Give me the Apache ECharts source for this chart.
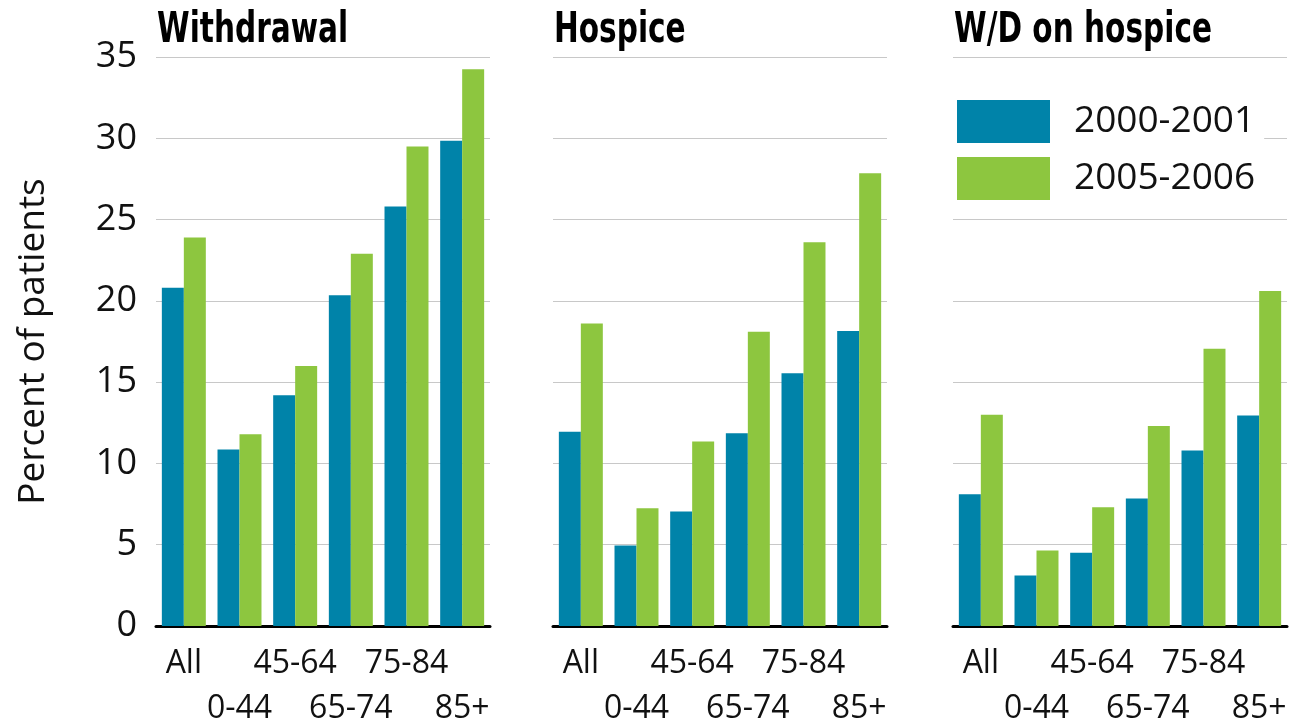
<!DOCTYPE html>
<html>
<head>
<meta charset="utf-8">
<script src="https://cdn.jsdelivr.net/npm/echarts@6/dist/echarts.min.js"></script>
<style>
html,body{margin:0;padding:0;background:#fff;overflow:hidden;}
#chart{width:1291px;height:722px;}
</style>
</head>
<body>
<div id="chart"></div>
<script>
var categories = ['All', '0-44', '45-64', '65-74', '75-84', '85+'];
var panelTitles = ['Withdrawal', 'Hospice', 'W/D on hospice'];
var seriesNames = ['2000-2001', '2005-2006'];
var withdrawal2000 = [20.8, 10.85, 14.2, 20.35, 25.8, 29.85];
var withdrawal2005 = [23.9, 11.8, 16.0, 22.9, 29.5, 34.25];
var hospice2000 = [11.95, 4.95, 7.05, 11.85, 15.55, 18.15];
var hospice2005 = [18.6, 7.25, 11.35, 18.1, 23.6, 27.85];
var wdHospice2000 = [8.1, 3.1, 4.5, 7.85, 10.8, 12.95];
var wdHospice2005 = [13.0, 4.65, 7.3, 12.3, 17.05, 20.6];
var yTicks = [0, 5, 10, 15, 20, 25, 30, 35];

var panelData = [
  [withdrawal2000, withdrawal2005],
  [hospice2000, hospice2005],
  [wdHospice2000, wdHospice2005]
];
var colors = ['#0083A9', '#8DC63F'];
var lefts = [156, 553, 953];
var panelW = 334;
var labelFont = "'Open Sans', 'Noto Sans', sans-serif";
var titleFont = "'DejaVu Sans Condensed', 'DejaVu Sans', sans-serif";

var grids = [], xAxes = [], yAxes = [], series = [], graphics = [];
for (var p = 0; p < 3; p++) {
  grids.push({left: lefts[p], width: panelW, top: 57, bottom: 96, outerBoundsMode: 'none', containLabel: false});
  graphics.push({
    type: 'text', x: lefts[p] + 1, y: 31, scaleX: 0.765, silent: true,
    style: {text: panelTitles[p], font: 'bold 43px ' + titleFont, fill: '#000', verticalAlign: 'middle', align: 'left'}
  });
  xAxes.push({
    type: 'category', gridIndex: p, data: categories,
    axisLine: {lineStyle: {color: '#000', width: 3}},
    axisTick: {show: false},
    axisLabel: {
      interval: 0, margin: 15, fontFamily: labelFont, fontSize: 32, color: '#111',
      lineHeight: 45,
      formatter: function (v, i) { return (i % 2 === 1) ? '\n' + v : v; }
    }
  });
  var ya = {
    type: 'value', gridIndex: p, min: yTicks[0], max: yTicks[yTicks.length - 1], interval: 5,
    axisLine: {show: false}, axisTick: {show: false},
    splitLine: {lineStyle: {color: '#c8c8c8', width: 1}},
    axisLabel: {show: p === 0, margin: 19, fontFamily: labelFont, fontSize: 36, color: '#111'}
  };
  if (p === 0) {
    ya.name = 'Percent of patients';
    ya.nameLocation = 'middle';
    ya.nameGap = 104;
    ya.nameTextStyle = {fontFamily: labelFont, fontSize: 37, color: '#111'};
  }
  yAxes.push(ya);
  for (var s = 0; s < 2; s++) {
    series.push({
      type: 'bar', name: seriesNames[s], xAxisIndex: p, yAxisIndex: p,
      data: panelData[p][s], barGap: '0%', barCategoryGap: '21%',
      itemStyle: {color: colors[s]}, silent: true, animation: false
    });
  }
}

var chart = echarts.init(document.getElementById('chart'), null, {renderer: 'canvas'});
chart.setOption({
  animation: false,
  backgroundColor: '#fff',
  grid: grids,
  xAxis: xAxes,
  yAxis: yAxes,
  graphic: graphics,
  legend: {
    data: seriesNames, orient: 'vertical', left: 953, top: 96,
    padding: [4, 9, 4, 4],
    backgroundColor: '#fff',
    itemWidth: 93, itemHeight: 43, itemGap: 14,
    icon: 'rect',
    textStyle: {fontFamily: labelFont, fontSize: 37, color: '#111', padding: [0, 0, 0, 19]},
    selectedMode: false
  },
  series: series
});
</script>
</body>
</html>
